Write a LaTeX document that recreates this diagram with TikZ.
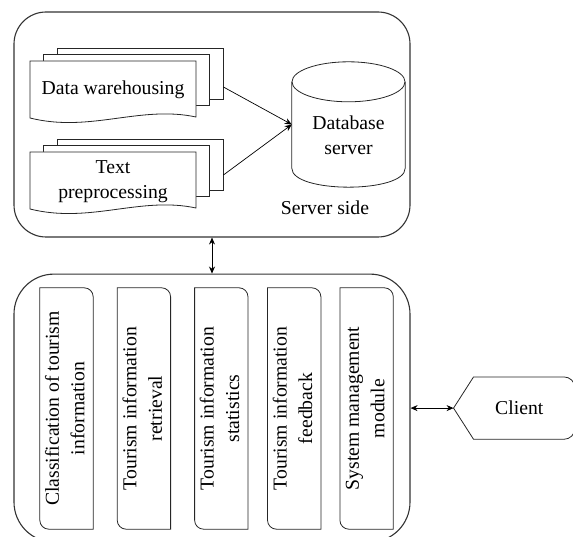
\documentclass[tikz,border=0pt]{standalone}
\usepackage{fontspec}
\setmainfont{Liberation Serif}
\usetikzlibrary{shapes.geometric, arrows.meta, positioning}

\tikzstyle{panel} = [rectangle,
draw=black!80,
line width=1.1pt,
minimum width=396pt]
\tikzstyle{backpage} = [rectangle,
draw=black!85,
fill=white,
line width=0.8pt,
minimum width=166pt,
minimum height=51pt]
\tikzstyle{frontpage} = [draw=black!85, fill=white, line width=0.8pt]
\tikzstyle{plain} = [align=center, inner sep=0pt]
\tikzstyle{module} = [rectangle,
minimum width=53pt,
minimum height=241pt,
inner sep=0pt]
\tikzstyle{modline} = [draw=black!85, line width=0.8pt]
\tikzstyle{arrow} = [line width=0.7pt,->,>={Stealth[length=7pt,width=6pt]}]
\tikzstyle{dblarrow} = [line width=0.7pt,<->,>={Stealth[length=7pt,width=6pt]}]

% front sheet of a document stack, wavy lower edge
\newcommand{\docfront}[1]{%
  \draw[frontpage, shift={#1}] (0,0) -- (166,0) -- (166,56)
    .. controls (110,44) and (60,72) .. (0,57) -- cycle;}

% module frame: round top right and bottom left only
\newcommand{\modframe}[1]{%
  \draw[modline] (#1.north west) -- (#1.north) [rounded corners=9pt]
    -- (#1.north east) -- (#1.east) [sharp corners]
    -- (#1.south east) -- (#1.south) [rounded corners=9pt]
    -- (#1.south west) -- (#1.west) [sharp corners] -- cycle;}

\begin{document}
\begin{tikzpicture}[x=1pt, y=-1pt, font=\fontsize{19.7}{25.5}\selectfont]
    \useasboundingbox (0,0) rectangle (573,537);

    % server side
    \node (server) [panel, rounded corners=32pt, minimum height=225pt] at (212,124.5) {};

    \node (dw3) [backpage] at (140,73.5) {};
    \node (dw2) [backpage] at ([shift={(-13.5,6.5)}]dw3) {};
    \docfront{(30,61)}
    \node (dw) [plain] at (113,90) {Data warehousing};

    \node (tp3) [backpage] at (140,164.5) {};
    \node (tp2) [backpage] at ([shift={(-13.5,6.5)}]tp3) {};
    \docfront{(30,152)}
    \node (tp) [plain] at (113,181.5) {Text\\preprocessing};

    \node (db) [rectangle, minimum width=113pt, minimum height=125pt, inner sep=0pt] at (348.5,124.5) {};
    \draw[modline] ([yshift=-20pt]db.north west) -- ([yshift=19pt]db.south west)
        .. controls ([yshift=-6.3pt]db.south west) and ([yshift=-6.3pt]db.south east) .. ([yshift=19pt]db.south east)
        -- ([yshift=-20pt]db.north east);
    \draw[modline] ([yshift=-20pt]db.north) ellipse [x radius=56.5pt, y radius=20pt];
    \node (dbtext) [plain] at ([yshift=-11pt]db.center) {Database\\server};

    \node (side) [plain] at (325,208) {Server side};

    \draw [arrow] ([yshift=-13.5pt]dw3.east) -- (db.west);
    \draw [arrow] ([yshift=-10.5pt]tp3.east) -- (db.west);

    % client side modules
    \node (modpanel) [panel, rounded corners=40pt, minimum height=268pt, below=36pt of server] {};

    \node (m1) [module] at (66.5,408.5) {\rotatebox{90}{\begin{tabular}{@{}c@{}}Classification of tourism\\information\end{tabular}}};
    \node (m2) [module, right=24pt of m1] {\rotatebox{90}{\begin{tabular}{@{}c@{}}Tourism information\\retrieval\end{tabular}}};
    \node (m3) [module, right=24pt of m2] {\rotatebox{90}{\begin{tabular}{@{}c@{}}Tourism information\\statistics\end{tabular}}};
    \node (m4) [module, right=19.5pt of m3] {\rotatebox{90}{\begin{tabular}{@{}c@{}}Tourism information\\feedback\end{tabular}}};
    \node (m5) [module, right=19pt of m4] {\rotatebox{90}{\begin{tabular}{@{}c@{}}System management\\module\end{tabular}}};
    \modframe{m1}
    \modframe{m2}
    \modframe{m3}
    \modframe{m4}
    \modframe{m5}

    \node (client) [rectangle, minimum width=121pt, minimum height=62pt, right=43pt of modpanel] {\hspace*{10pt}Client};
    \draw[modline] (client.west) -- ([xshift=20pt]client.north west)
        -- ([xshift=60pt]client.north west) [rounded corners=11pt]
        -- (client.north east) -- (client.south east)
        -- ([xshift=60pt]client.south west) [sharp corners]
        -- ([xshift=20pt]client.south west) -- cycle;

    \draw [dblarrow] (server.south) -- (modpanel.north);
    \draw [dblarrow] (modpanel.east) -- (client.west);
\end{tikzpicture}
\end{document}
